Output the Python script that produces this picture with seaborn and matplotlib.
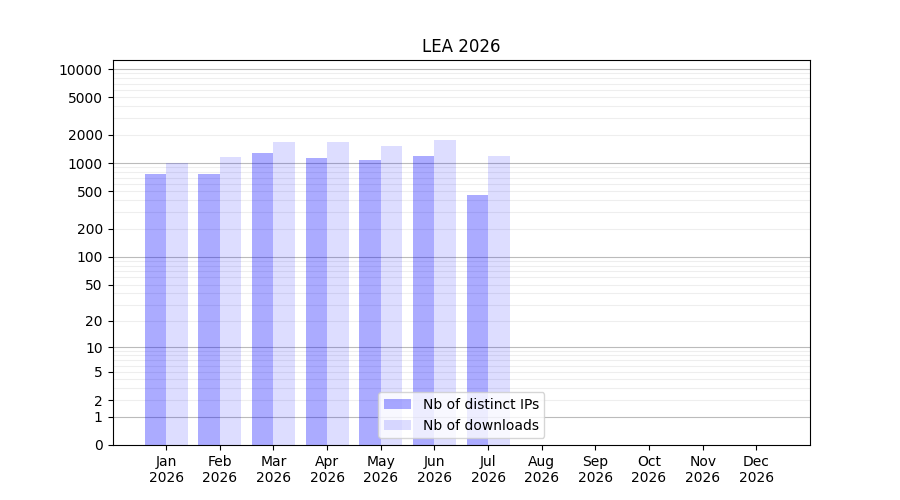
import numpy as np
import pandas as pd
import matplotlib
matplotlib.use("Agg")
import matplotlib.pyplot as plt
import seaborn as sns
from matplotlib.ticker import FixedLocator, FixedFormatter

months = ["Jan", "Feb", "Mar", "Apr", "May", "Jun", "Jul", "Aug", "Sep", "Oct", "Nov", "Dec"]
year = "2026"
distinct_ips = [755, 755, 1270, 1125, 1070, 1180, 452, np.nan, np.nan, np.nan, np.nan, np.nan]
downloads = [1010, 1150, 1665, 1665, 1510, 1750, 1180, np.nan, np.nan, np.nan, np.nan, np.nan]
series_names = ["Nb of distinct IPs", "Nb of downloads"]
ytick_values = [0, 1, 2, 5, 10, 20, 50, 100, 200, 500, 1000, 2000, 5000, 10000]

df = pd.DataFrame({
    "month": months * 2,
    "value": distinct_ips + downloads,
    "series": [series_names[0]] * 12 + [series_names[1]] * 12,
})

fig, ax = plt.subplots(figsize=(9, 5), dpi=100)
sns.barplot(data=df, x="month", y="value", hue="series", order=months,
            hue_order=series_names, palette=["#aaaaff", "#ddddff"],
            saturation=1, width=0.8, ax=ax, errorbar=None, legend=False)

alphas = [0.33, 0.135]
for cont, a in zip(ax.containers, alphas):
    for p in cont:
        p.set_facecolor((0, 0, 1, a))
        p.set_edgecolor("none")
        p.set_zorder(2)

ax.set_yscale("function", functions=(lambda x: np.log10(1 + np.clip(x, 0, None)),
                                     lambda y: 10 ** y - 1))
ax.set_ylim(0, 12500)
ax.set_xlim(-1, 12)

ax.yaxis.set_major_locator(FixedLocator(ytick_values))
ax.yaxis.set_major_formatter(FixedFormatter([str(v) for v in ytick_values]))
minor = [m * 10 ** k for k in range(0, 4) for m in range(2, 10)]
ax.yaxis.set_minor_locator(FixedLocator(minor))
ax.tick_params(axis="y", which="minor", length=0)
ax.grid(False)
for k in range(0, 5):
    ax.axhline(10 ** k, color="#bbbbbb", linewidth=0.8, zorder=1)
for v in minor:
    ax.axhline(v, color="#eeeeee", linewidth=0.8, zorder=1)

ax.set_xticks(range(12))
ax.set_xticklabels([f"{m}\n{year}" for m in months])
ax.set_xlabel("")
ax.set_ylabel("")
ax.set_title("LEA 2026")
ax.legend(handles=[ax.containers[0][0], ax.containers[1][0]], labels=series_names,
          loc="lower center")

fig.subplots_adjust(left=0.125, right=0.9, bottom=0.11, top=0.88)
fig.savefig("out.png", dpi=100)
